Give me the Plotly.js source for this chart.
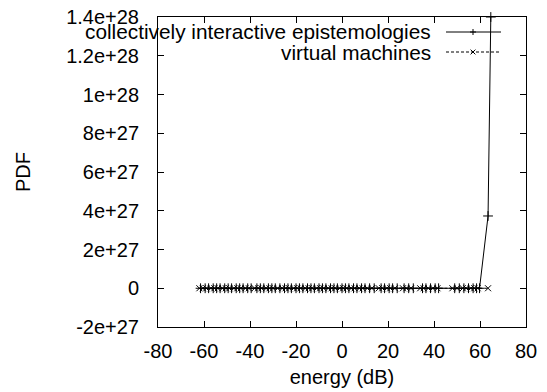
<!DOCTYPE html>
<html>
<head>
<meta charset="utf-8">
<script src="https://cdn.plot.ly/plotly-3.0.1.min.js"></script>
<style>html,body{margin:0;padding:0;background:#fff;}#chart{width:547px;height:392px;}</style>
</head>
<body>
<div id="chart"></div>
<script>
// Series names
const seriesNames = ["collectively interactive epistemologies", "virtual machines"];

// Series 1: collectively interactive epistemologies
const ciX = [-61.5,-59.5,-58,-56,-54.5,-53,-51,-49.5,-48,-46,-44.5,-43,-41,-39.5,-37,-35.5,-34,-32,-30.5,-29,-27,-25,-23.5,-22,-20,-18.5,-17,-15,-13.5,-12,-10,-8.5,-7,-5,-3.5,-2,0,1.5,3,5,6.5,8.5,10,12,14,17,18.5,20.5,22,24,27,29,31,35,36.5,38.5,40.5,42,49,51,53,55,57,58.5,59.8,63.5,64.7];
const ciY = [0,0,0,0,0,0,0,0,0,0,0,0,0,0,0,0,0,0,0,0,0,0,0,0,0,0,0,0,0,0,0,0,0,0,0,0,0,0,0,0,0,0,0,0,0,0,0,0,0,0,0,0,0,0,0,0,0,0,0,0,0,0,0,0,0,3.73e27,1.4e28];

// Series 2: virtual machines
const vmX = [-62,-60.5,-59,-57,-55.5,-54,-52,-50.5,-49,-47,-45.5,-44,-42,-40.5,-38,-36.5,-35,-33,-31.5,-30,-28,-26,-24.5,-23,-21,-19.5,-18,-16,-14.5,-13,-11,-9.5,-8,-6,-4.5,-3,-1,0.5,2,4,5.5,7.5,9,11,13,16,17.5,19.5,21,23,26.5,28,30,34,35.5,37.5,39.5,41.5,48,50,52.5,54,56,57.5,59,63.5];
const vmY = [0,0,0,0,0,0,0,0,0,0,0,0,0,0,0,0,0,0,0,0,0,0,0,0,0,0,0,0,0,0,0,0,0,0,0,0,0,0,0,0,0,0,0,0,0,0,0,0,0,0,0,0,0,0,0,0,0,0,0,0,0,0,0,0,0,0];

// Tick labels
const xTickVals = [-80,-60,-40,-20,0,20,40,60,80];
const xTickText = ["-80","-60","-40","-20","0","20","40","60","80"];
const yTickVals = [-2e27,0,2e27,4e27,6e27,8e27,1e28,1.2e28,1.4e28];
const yTickText = ["-2e+27","0","2e+27","4e+27","6e+27","8e+27","1e+28","1.2e+28","1.4e+28"];

const xTitle = "energy (dB)";
const yTitle = "PDF";

const FONT = "Liberation Sans, Arial, Helvetica, sans-serif";
const FS = 20;
const LFS = 20.8;

const traces = [
  {
    x: ciX, y: ciY, name: seriesNames[0], type: "scatter", mode: "lines+markers",
    line: {color: "#000", width: 1},
    marker: {symbol: "cross-thin", size: 7, color: "#000", line: {color: "#000", width: 1}},
    showlegend: false, cliponaxis: false
  },
  {
    x: vmX, y: vmY, name: seriesNames[1], type: "scatter", mode: "lines+markers",
    line: {color: "#000", width: 1, dash: "3px,2px"},
    marker: {symbol: "x-thin", size: 6, color: "#000", line: {color: "#000", width: 1}},
    showlegend: false, cliponaxis: false
  }
];

// manual legend (gnuplot style: text on the left, sample on the right)
const plotW = 547 - 158 - 21, plotH = 392 - 17 - 65;
const px = v => (v - 158) / plotW;
const py = v => 1 - (v - 17) / plotH;
const lx0 = px(446), lx1 = px(501), lm = px(473), tx = px(433);
const r1 = py(32), r2 = py(52);
const dx = 3 / plotW, dy = 3 / plotH;

const shapes = [
  {type:"line", xref:"paper", yref:"paper", x0:lx0, x1:lx1, y0:r1, y1:r1, line:{color:"#000", width:1}},
  {type:"line", xref:"paper", yref:"paper", x0:lm-dx, x1:lm+dx, y0:r1, y1:r1, line:{color:"#000", width:1}},
  {type:"line", xref:"paper", yref:"paper", x0:lm, x1:lm, y0:r1-dy, y1:r1+dy, line:{color:"#000", width:1}},
  {type:"line", xref:"paper", yref:"paper", x0:lx0, x1:lx1, y0:r2, y1:r2, line:{color:"#000", width:1, dash:"3px,2px"}},
  {type:"line", xref:"paper", yref:"paper", x0:lm-dx*0.8, x1:lm+dx*0.8, y0:r2-dy*0.8, y1:r2+dy*0.8, line:{color:"#000", width:1}},
  {type:"line", xref:"paper", yref:"paper", x0:lm-dx*0.8, x1:lm+dx*0.8, y0:r2+dy*0.8, y1:r2-dy*0.8, line:{color:"#000", width:1}}
];

const annotations = [
  {text: seriesNames[0], xref:"paper", yref:"paper", x: tx, y: r1, xanchor:"right", yanchor:"middle", showarrow:false, font:{family:FONT, size:LFS, color:"#000"}},
  {text: seriesNames[1], xref:"paper", yref:"paper", x: tx, y: r2, xanchor:"right", yanchor:"middle", showarrow:false, font:{family:FONT, size:LFS, color:"#000"}}
];

const layout = {
  width: 547, height: 392,
  margin: {l:158, r:21, t:17, b:65, pad:0},
  paper_bgcolor: "#fff", plot_bgcolor: "#fff",
  font: {family: FONT, size: FS, color: "#000"},
  showlegend: false,
  xaxis: {
    range: [-80, 80], tickvals: xTickVals, ticktext: xTickText,
    ticks: "inside", ticklen: 6, tickwidth: 1, tickcolor: "#000",
    showline: true, linecolor: "#000", linewidth: 1, mirror: "allticks",
    showgrid: false, zeroline: false, ticklabelstandoff: 6,
    title: {text: xTitle, font: {family: FONT, size: FS}, standoff: 8}
  },
  yaxis: {
    range: [-2e27, 1.4e28], tickvals: yTickVals, ticktext: yTickText,
    ticks: "inside", ticklen: 6, tickwidth: 1, tickcolor: "#000",
    showline: true, linecolor: "#000", linewidth: 1, mirror: "allticks",
    showgrid: false, zeroline: false, ticklabelstandoff: 14,
    title: {text: yTitle, font: {family: FONT, size: FS}, standoff: 30}
  },
  shapes: shapes,
  annotations: annotations
};

Plotly.newPlot("chart", traces, layout, {staticPlot: true, displayModeBar: false});
</script>
</body>
</html>
